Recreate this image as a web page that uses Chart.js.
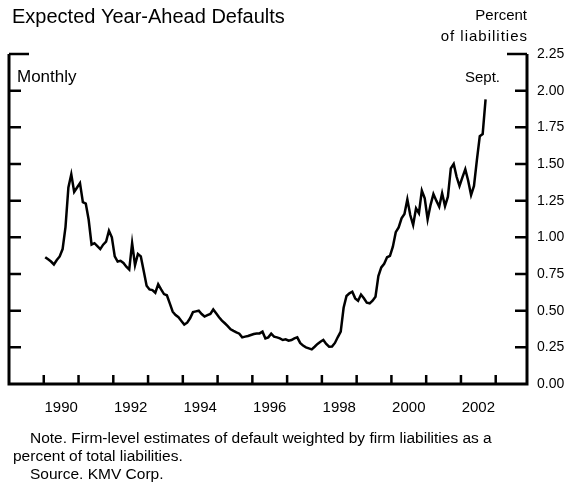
<!DOCTYPE html>
<html lang="en">
  <head>
    <meta charset="UTF-8" />
    <title>Expected Year-Ahead Defaults</title>
    <style>
      body {
        margin: 0;
        padding: 0;
        background-color: #fff;
      }
    </style>
  </head>
  <body>
    <canvas id="myChart" width="583" height="484"></canvas>
    <script src="https://cdn.jsdelivr.net/npm/chart.js@4.4.0/dist/chart.umd.min.js"></script>
    <script>
      // monthly series, Jan 1990 .. Sept 2002 (percent of liabilities)
      const startYear = 1990;
      const defaults = [
        0.865, 0.85, 0.835, 0.815, 0.845, 0.87, 0.92, 1.07, 1.34, 1.43, 1.31, 1.34, // 1990
        1.37, 1.24, 1.23, 1.12, 0.95, 0.96, 0.94, 0.92, 0.95, 0.97, 1.045, 1.0, // 1991
        0.87, 0.835, 0.84, 0.825, 0.8, 0.78, 0.96, 0.81, 0.886, 0.87, 0.77, 0.67, // 1992
        0.645, 0.64, 0.622, 0.68, 0.645, 0.613, 0.605, 0.55, 0.493, 0.47, 0.455, 0.43, // 1993
        0.405, 0.418, 0.448, 0.49, 0.495, 0.5, 0.477, 0.46, 0.47, 0.478, 0.508, 0.482, // 1994
        0.455, 0.432, 0.414, 0.395, 0.373, 0.362, 0.352, 0.343, 0.318, 0.323, 0.327, 0.334, // 1995
        0.341, 0.345, 0.345, 0.357, 0.311, 0.318, 0.343, 0.323, 0.318, 0.311, 0.3, 0.305, // 1996
        0.295, 0.3, 0.311, 0.318, 0.28, 0.262, 0.25, 0.243, 0.236, 0.254, 0.273, 0.288, // 1997
        0.3, 0.273, 0.254, 0.255, 0.28, 0.32, 0.357, 0.52, 0.6, 0.618, 0.629, 0.584, // 1998
        0.568, 0.61, 0.584, 0.554, 0.55, 0.568, 0.595, 0.736, 0.795, 0.82, 0.864, 0.873, // 1999
        0.936, 1.035, 1.068, 1.13, 1.159, 1.259, 1.152, 1.084, 1.198, 1.164, 1.318, 1.266, // 2000
        1.123, 1.22, 1.295, 1.25, 1.209, 1.3, 1.213, 1.277, 1.47, 1.5, 1.413, 1.35, // 2001
        1.409, 1.464, 1.386, 1.288, 1.35, 1.527, 1.69, 1.704, 1.94, // 2002 (to Sept.)
      ];
      const yearLabels = [1990, 1992, 1994, 1996, 1998, 2000, 2002];
      const tickYears = [1990, 1991, 1992, 1993, 1994, 1995, 1996, 1997, 1998, 1999, 2000, 2001, 2002, 2003];
      const yTicks = [0, 0.25, 0.5, 0.75, 1.0, 1.25, 1.5, 1.75, 2.0, 2.25];

      const FONT = '"Liberation Sans", Arial, sans-serif';

      const points = defaults.map((v, i) => ({ x: startYear + (i + 0.5) / 12, y: v }));

      // frame, inward tick marks and the text around the plot
      const framePlugin = {
        id: "frame",
        afterDraw(chart) {
          const { ctx, chartArea, scales } = chart;
          const { left, right, top, bottom } = chartArea;
          ctx.save();
          ctx.strokeStyle = "#000";
          ctx.lineWidth = 3;
          ctx.beginPath();
          ctx.moveTo(left, top);
          ctx.lineTo(left, bottom);
          ctx.lineTo(right, bottom);
          ctx.lineTo(right, top);
          ctx.stroke();

          ctx.lineWidth = 2.5;
          ctx.beginPath();
          yTicks.slice(1).forEach((v) => {
            const py = scales.y.getPixelForValue(v);
            const len = v === 2.25 ? 20 : 12;
            ctx.moveTo(left, py);
            ctx.lineTo(left + len, py);
            ctx.moveTo(right, py);
            ctx.lineTo(right - len, py);
          });
          tickYears.forEach((yr) => {
            const px = scales.x.getPixelForValue(yr);
            ctx.moveTo(px, bottom);
            ctx.lineTo(px, bottom - 9);
          });
          ctx.stroke();

          ctx.fillStyle = "#000";
          ctx.textBaseline = "alphabetic";
          ctx.textAlign = "left";
          ctx.font = "20px " + FONT;
          ctx.fillText("Expected Year-Ahead Defaults", 12, 23);
          ctx.font = "15px " + FONT;
          ctx.textAlign = "right";
          ctx.fillText("Percent", 527, 20);
          ctx.fillText("Sept.", 500, 82);
          ctx.letterSpacing = "1px";
          ctx.fillText("of liabilities", 528, 41);
          ctx.letterSpacing = "0px";
          ctx.textAlign = "left";
          ctx.font = "17px " + FONT;
          ctx.fillText("Monthly", 17, 82);
          ctx.font = "15.5px " + FONT;
          ctx.fillText("Note. Firm-level estimates of default weighted by firm liabilities as a", 30, 443);
          ctx.fillText("percent of total liabilities.", 13, 461);
          ctx.fillText("Source. KMV Corp.", 30, 479);
          ctx.restore();
        },
      };

      const config = {
        type: "line",
        data: {
          datasets: [
            {
              data: points,
              borderColor: "#000",
              borderWidth: 2.5,
              pointRadius: 0,
              tension: 0,
              fill: false,
            },
          ],
        },
        options: {
          responsive: false,
          animation: false,
          layout: { padding: { top: 54, left: 9, right: 0, bottom: 0 } },
          plugins: {
            legend: { display: false },
            tooltip: { enabled: false },
          },
          scales: {
            x: {
              type: "linear",
              min: 1989,
              max: 2003.9,
              grid: { display: false, drawTicks: false },
              border: { display: false },
              afterBuildTicks: (scale) => {
                scale.ticks = yearLabels.map((yr) => ({ value: yr + 0.5 }));
              },
              afterFit: (scale) => {
                scale.height = 100;
              },
              ticks: {
                autoSkip: false,
                maxRotation: 0,
                padding: 15,
                color: "#000",
                font: { family: FONT, size: 15 },
                callback: (value) => String(Math.floor(value)),
              },
            },
            y: {
              position: "right",
              min: 0,
              max: 2.25,
              grid: { display: false, drawTicks: false },
              border: { display: false },
              afterBuildTicks: (scale) => {
                scale.ticks = yTicks.map((v) => ({ value: v }));
              },
              afterFit: (scale) => {
                scale.width = 56;
              },
              ticks: {
                padding: 10,
                color: "#000",
                font: { family: FONT, size: 14 },
                callback: (value) => value.toFixed(2),
              },
            },
          },
        },
        plugins: [framePlugin],
      };

      const ctx = document.getElementById("myChart").getContext("2d");
      const myChart = new Chart(ctx, config);
    </script>
  </body>
</html>
